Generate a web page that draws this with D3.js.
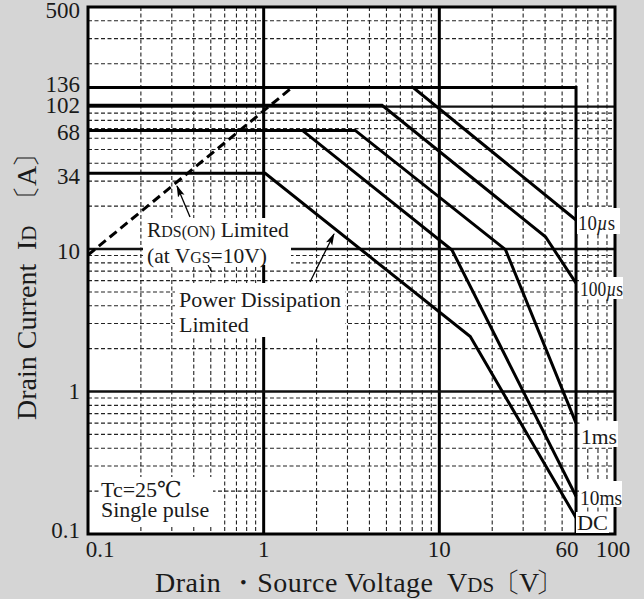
<!DOCTYPE html>
<html><head><meta charset="utf-8">
<script src="https://cdn.jsdelivr.net/npm/d3@7"></script>
<style>
body{margin:0;background:#d5d5d5}
svg{display:block}
text{font-family:"Liberation Serif","DejaVu Serif",serif;fill:#1a1a1a}
</style>
</head><body>
<svg id="c" width="644" height="599"></svg>
<script>
// ---- data ----
const xTickValues = [0.1, 1, 10, 60, 100];
const xTickLabels = ["0.1", "1", "10", "60", "100"];
const yTickValues = [0.1, 1, 10, 34, 68, 102, 136, 500];
const yTickLabels = ["0.1", "1", "10", "34", "68", "102", "136", "500"];
const curveLabels = ["10µs", "100µs", "1ms", "10ms", "DC"];
const curve10us  = [[0.1, 136], [7.1, 136], [60, 16]];
const curve100us = [[0.1, 102], [4.72, 102], [40.2, 12.2], [60, 5.76]];
const curve1ms   = [[0.1, 68], [3.32, 68], [23.8, 9.9], [60, 0.6]];
const curve10ms  = [[0.1, 68], [1.66, 68], [11.8, 9.85], [60, 0.184]];
const curveDC    = [[0.1, 34], [1.02, 34], [15, 2.43], [60, 0.13]];
const vdssLimit  = [[0.1, 136], [60, 136], [60, 0.1]];
const rdsOnLimit = [[0.1, 9.08], [1.45, 136]];
const majorX = [1, 10];
const majorY = [1, 10, 100];

// ---- layout ----
const svg = d3.select("#c");
const L = 88, R = 615, T = 7, B = 534;
const x = d3.scaleLog().domain([0.1, 100]).range([L, R]);
const y = d3.scaleLog().domain([0.1, 500]).range([B, T]);

svg.append("rect").attr("x", L).attr("y", T).attr("width", R - L).attr("height", B - T).attr("fill", "#fff");

// minor grid
const minorXv = [], minorYv = [];
[0.1, 1, 10].forEach(d => { for (let k = 2; k <= 9; k++) minorXv.push(d * k); });
[0.1, 1, 10, 100].forEach(d => { for (let k = 2; k <= 9; k++) if (d * k < 500) minorYv.push(d * k); });
const g = svg.append("g");
g.selectAll(".mx").data(minorXv).join("line")
  .attr("x1", d => x(d)).attr("x2", d => x(d)).attr("y1", T).attr("y2", B)
  .attr("stroke", "#222").attr("stroke-width", 1.1).attr("stroke-dasharray", "4,2.5");
g.selectAll(".my").data(minorYv).join("line")
  .attr("y1", d => y(d)).attr("y2", d => y(d)).attr("x1", L).attr("x2", R)
  .attr("stroke", "#222").attr("stroke-width", 1.1).attr("stroke-dasharray", "4,2.5");
// major grid
g.selectAll(".Mx").data(majorX).join("line")
  .attr("x1", d => x(d)).attr("x2", d => x(d)).attr("y1", T).attr("y2", B)
  .attr("stroke", "#000").attr("stroke-width", 3);
g.selectAll(".My").data(majorY).join("line")
  .attr("y1", d => y(d)).attr("y2", d => y(d)).attr("x1", L).attr("x2", R)
  .attr("stroke", "#111").attr("stroke-width", 2.4);

// curves
const line = d3.line().x(d => x(d[0])).y(d => y(d[1]));
[curve10us, curve100us, curve1ms, curve10ms, curveDC, vdssLimit].forEach(c => {
  svg.append("path").attr("d", line(c)).attr("fill", "none")
    .attr("stroke", "#000").attr("stroke-width", 3).attr("stroke-linejoin", "miter");
});
svg.append("path").attr("d", line(rdsOnLimit)).attr("fill", "none")
  .attr("stroke", "#000").attr("stroke-width", 3).attr("stroke-dasharray", "9,5");

// frame
svg.append("rect").attr("x", L).attr("y", T).attr("width", R - L).attr("height", B - T)
  .attr("fill", "none").attr("stroke", "#000").attr("stroke-width", 3);

// arrows
const defs = svg.append("defs");
defs.append("marker").attr("id", "ah").attr("viewBox", "0 0 12 8").attr("refX", 11).attr("refY", 4)
  .attr("markerWidth", 12).attr("markerHeight", 8).attr("markerUnits", "userSpaceOnUse").attr("orient", "auto")
  .append("path").attr("d", "M0,0.5 L12,4 L0,7.5 L2.5,4 Z").attr("fill", "#000");
function arrow(x1, y1, x2, y2) {
  svg.append("line").attr("x1", x1).attr("y1", y1).attr("x2", x2).attr("y2", y2)
    .attr("stroke", "#000").attr("stroke-width", 1.3).attr("marker-end", "url(#ah)");
}
arrow(190, 217, 177, 186);
arrow(310, 282, 334, 234);
svg.append("line").attr("x1", 208).attr("y1", 265).attr("x2", 212).attr("y2", 272).attr("stroke", "#000").attr("stroke-width", 1.2);

// white boxes behind annotation text
function box(x0, y0, x1, y1) {
  svg.append("rect").attr("x", x0).attr("y", y0).attr("width", x1 - x0).attr("height", y1 - y0).attr("fill", "#fff");
}
box(143, 218, 291, 265);
box(175, 283, 345, 337);
box(99, 477, 213, 525);

function txt(xp, yp, size, parts, anchor) {
  const t = svg.append("text").attr("x", xp).attr("y", yp).attr("font-size", size)
    .attr("text-anchor", anchor || "start");
  parts.forEach(p => {
    const s = t.append("tspan").text(p[0]);
    if (p[1]) s.attr("font-size", size * p[1]);
    if (p[2]) s.attr("font-style", p[2]);
  });
  return t;
}
txt(147, 237, 21.5, [["R"], ["DS(ON)", 0.74], [" Limited"]]);
txt(147, 263, 21.5, [["(at V"], ["GS", 0.74], ["=10V)"]]);
txt(179, 307, 22, [["Power Dissipation"]]);
txt(179, 332, 22, [["Limited"]]);
txt(101, 497, 22, [["Tc=25℃"]]);
txt(101, 517, 22, [["Single pulse"]]);

// right-side curve labels
const lblPos = { "10µs": [577, 208, 620, 234, 230, 37], "100µs": [579, 277, 623, 299, 296, 43],
  "1ms": [580, 421, 618, 447, 444, 36], "10ms": [579, 481, 622, 507, 505, 42], "DC": [576, 512, 609, 533, 530, 31] };
curveLabels.forEach(l => {
  const p = lblPos[l];
  box(p[0], p[1], p[2], p[3]);
  const t = svg.append("text").attr("x", p[0] + 1).attr("y", p[4]).attr("font-size", 22)
    .attr("textLength", p[5]).attr("lengthAdjust", "spacingAndGlyphs");
  const m = l.match(/^(\d+)(µ?)(.*)$/);
  if (m) {
    t.append("tspan").text(m[1]);
    if (m[2]) t.append("tspan").text(m[2]).attr("font-style", "italic");
    t.append("tspan").text(m[3]);
  } else t.text(l);
});

// tick labels
const yNudge = { "500": 3, "136": -3.5, "102": 0.5, "68": 2, "34": 3, "10": 2, "1": 0, "0.1": -4 };
yTickValues.forEach((v, i) => {
  svg.append("text").attr("x", 80).attr("y", y(v) + yNudge[yTickLabels[i]]).attr("font-size", 23)
    .attr("text-anchor", "end").attr("dominant-baseline", "central").text(yTickLabels[i]);
});
const xNudge = { "0.1": 12, "1": 0, "10": 0, "60": -9, "100": -2 };
xTickValues.forEach((v, i) => {
  svg.append("text").attr("x", x(v) + xNudge[xTickLabels[i]]).attr("y", 557).attr("font-size", 23)
    .attr("text-anchor", "middle").text(xTickLabels[i]);
});

// axis titles
svg.append("text").attr("x", 155).attr("y", 592).attr("font-size", 28)
  .attr("textLength", 278).attr("lengthAdjust", "spacing").text("Drain ・Source Voltage");
txt(447, 592, 28, [["V"], ["DS", 0.75]]);
svg.append("text").attr("x", 507).attr("y", 592).attr("font-size", 28).attr("text-anchor", "middle").text("〔");
svg.append("text").attr("x", 519).attr("y", 592).attr("font-size", 28).text("V");
svg.append("text").attr("x", 549).attr("y", 592).attr("font-size", 28).attr("text-anchor", "middle").text("〕");

const yg = svg.append("g").attr("transform", "translate(36,0) rotate(-90)");
function ytxt(ypos, size, s, anchor) {
  return yg.append("text").attr("x", -ypos).attr("y", 0).attr("font-size", size)
    .attr("text-anchor", anchor || "start").text(s);
}
ytxt(420, 28, "Drain Current");
const id = yg.append("text").attr("x", -250).attr("y", 0).attr("font-size", 28);
id.append("tspan").text("I");
id.append("tspan").attr("font-size", 21).text("D");
ytxt(199, 28, "〔", "middle");
ytxt(186, 28, "A");
ytxt(154, 28, "〕", "middle");
</script>
</body></html>
